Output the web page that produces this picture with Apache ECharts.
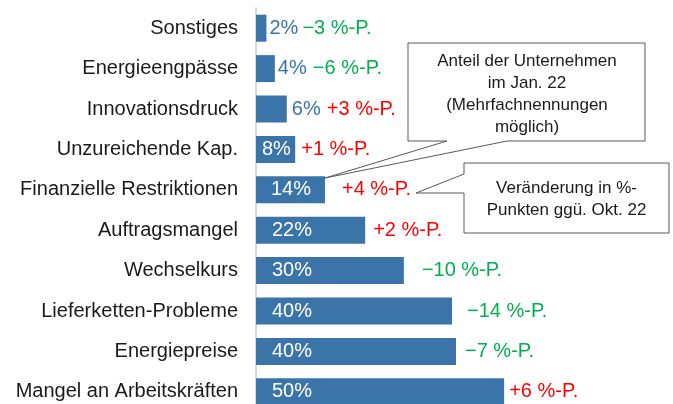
<!DOCTYPE html>
<html>
<head>
<meta charset="utf-8">
<script src="https://cdn.jsdelivr.net/npm/echarts@6/dist/echarts.min.js"></script>
<style>
html,body{margin:0;padding:0;background:#fff;}
#c{width:673px;height:404px;}
</style>
</head>
<body>
<div id="c"></div>
<script>
// Categories, top to bottom
var categories = ['Sonstiges','Energieengpässe','Innovationsdruck','Unzureichende Kap.','Finanzielle Restriktionen','Auftragsmangel','Wechselkurs','Lieferketten-Probleme','Energiepreise','Mangel an Arbeitskräften'];
// Share of companies, Jan. 22 (%), as drawn
var shares = [2.1, 3.8, 6.2, 7.9, 13.9, 22, 29.8, 39.5, 40.3, 50];
// Printed share labels
var shareLabels = ['2%','4%','6%','8%','14%','22%','30%','40%','40%','50%'];
// Change vs. Okt. 22 in percentage points
var changes = [-3, -6, 3, 1, 4, 2, -10, -14, -7, 6];

var BLUE = '#3b74a8';
var FONT = 'Liberation Sans, Arial, sans-serif';
// label styling (positions of printed labels)
var outsideIdx = [0,1,2];
var shareDist = [3,3,5,6,15,16,16,16,16,16];
var changeDist = [36,38,40,6,17,8,18,15,9,5];

var shareData = shares.map(function(v,i){
  var outside = outsideIdx.indexOf(i) >= 0;
  return {
    value: v,
    label: {
      show: true,
      position: outside ? 'right' : 'insideLeft',
      distance: shareDist[i],
      color: outside ? BLUE : '#ffffff',
      formatter: shareLabels[i]
    }
  };
});
var changeData = shares.map(function(v,i){
  var c = changes[i];
  var txt = (c < 0 ? '\u2212' + Math.abs(c) : '+' + c) + ' %-P.';
  return {
    value: v,
    label: {
      show: true,
      position: 'right',
      distance: changeDist[i],
      color: c < 0 ? '#00b050' : '#ff0000',
      formatter: txt
    }
  };
});

var chart = echarts.init(document.getElementById('c'), null, {renderer:'canvas'});
chart.setOption({
  animation: false,
  backgroundColor: '#ffffff',
  grid: {left: 256, top: 8, width: 397, height: 404, containLabel: false, outerBoundsMode: 'none'},
  xAxis: {
    type: 'value', min: 0, max: 80, show: false
  },
  yAxis: {
    type: 'category', data: categories, inverse: true,
    axisLine: {show: true, lineStyle: {color: '#d9d9d9', width: 2}},
    axisTick: {show: false},
    axisLabel: {color: '#1a1a1a', fontSize: 20, fontFamily: FONT, margin: 18}
  },
  series: [
    {
      type: 'bar', data: shareData, barWidth: 27,
      itemStyle: {color: BLUE},
      label: {fontSize: 20, fontFamily: FONT},
      z: 3
    },
    {
      type: 'bar', data: changeData, barWidth: 27, barGap: '-100%',
      itemStyle: {color: 'rgba(0,0,0,0)'},
      label: {fontSize: 20, fontFamily: FONT},
      silent: true, z: 4
    }
  ],
  graphic: [
    {
      type: 'polygon', z: 10,
      shape: {points: [[408,43],[645,43],[645,141],[507,141],[325,178],[447,141],[408,141]]},
      style: {fill: '#ffffff', stroke: '#595959', lineWidth: 1}
    },
    {
      type: 'text', z: 11, x: 527, y: 94.5,
      style: {text: 'Anteil der Unternehmen\nim Jan. 22\n(Mehrfachnennungen\nmöglich)', fill: '#1a1a1a',
        font: '17px ' + FONT, align: 'center', verticalAlign: 'middle', lineHeight: 22}
    },
    {
      type: 'polygon', z: 10,
      shape: {points: [[464,163],[669,163],[669,233],[464,233],[464,193],[416,193],[464,174]]},
      style: {fill: '#ffffff', stroke: '#595959', lineWidth: 1}
    },
    {
      type: 'text', z: 11, x: 566.5, y: 199,
      style: {text: 'Veränderung in %-\nPunkten ggü. Okt. 22', fill: '#1a1a1a',
        font: '17px ' + FONT, align: 'center', verticalAlign: 'middle', lineHeight: 22}
    }
  ]
});
</script>
</body>
</html>
